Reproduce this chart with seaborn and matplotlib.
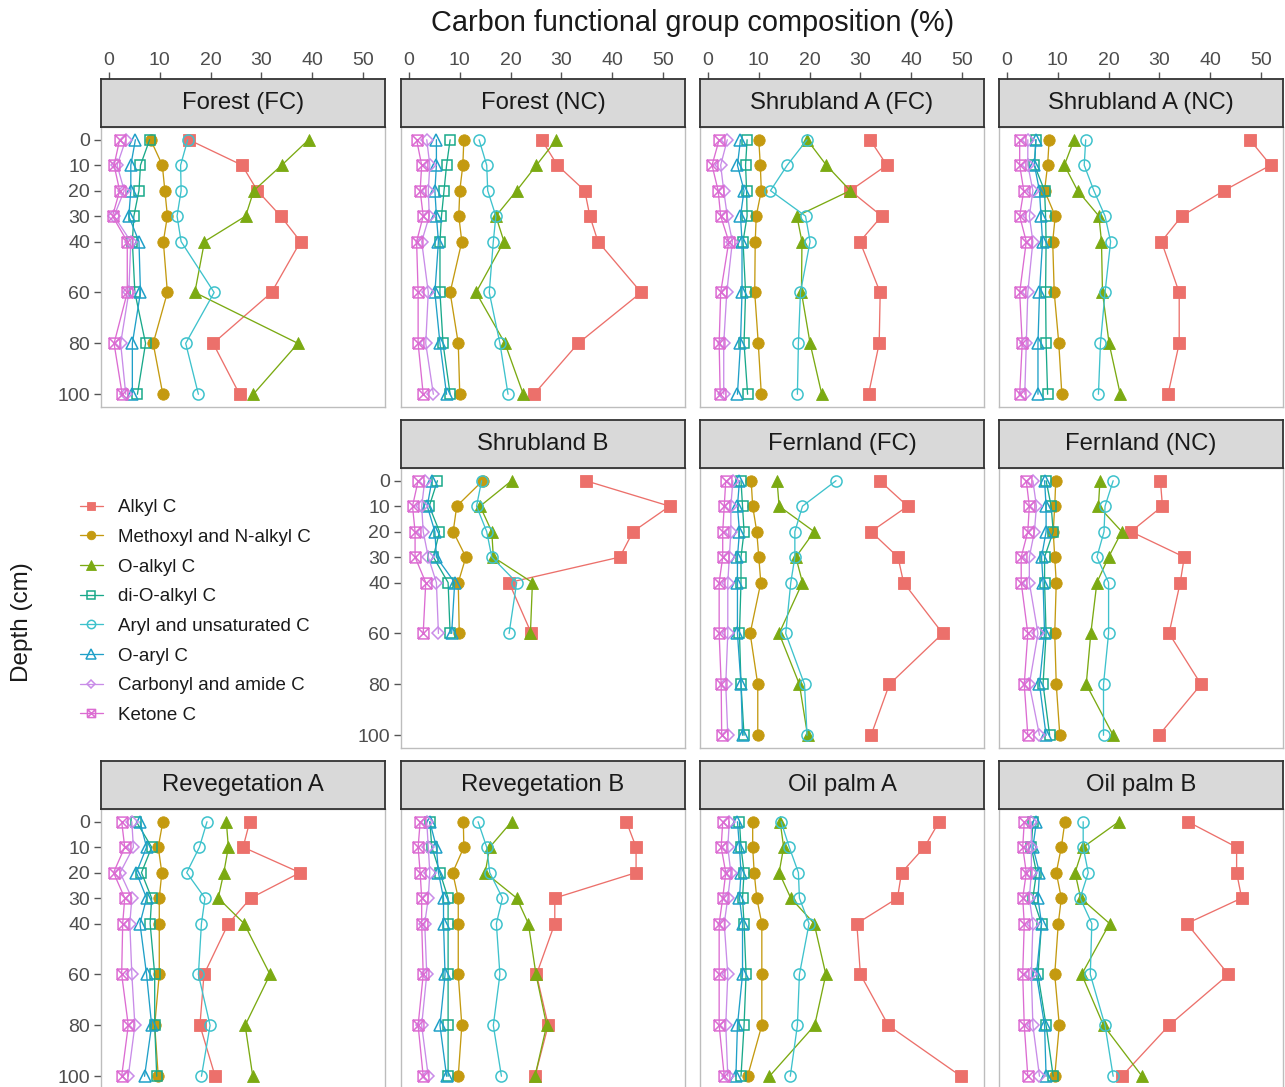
import numpy as np
import pandas as pd
import matplotlib
matplotlib.use("Agg")
import matplotlib.pyplot as plt
from matplotlib.path import Path
import seaborn as sns

# ---------------------------------------------------------------- data
DEPTHS = [0, 10, 20, 30, 40, 60, 80, 100]
DEPTH_TICKS = [0, 10, 20, 30, 40, 60, 80, 100]
PCT_TICKS = [0, 10, 20, 30, 40, 50]

GROUPS = ["Alkyl C", "Methoxyl and N-alkyl C", "O-alkyl C", "di-O-alkyl C",
          "Aryl and unsaturated C", "O-aryl C", "Carbonyl and amide C", "Ketone C"]

SITES = ["Forest (FC)", "Forest (NC)", "Shrubland A (FC)", "Shrubland A (NC)",
         "Shrubland B", "Fernland (FC)", "Fernland (NC)",
         "Revegetation A", "Revegetation B", "Oil palm A", "Oil palm B"]

# composition (%) per depth, one list per functional group, in GROUPS order
forest_fc = [
    [15.7, 26.2, 29.2, 33.8, 37.7, 32.0, 20.5, 25.7],
    [8.2, 10.5, 11.0, 11.5, 10.7, 11.5, 8.7, 10.6],
    [39.3, 34.0, 28.5, 26.9, 18.8, 16.9, 37.2, 28.4],
    [8.0, 6.2, 5.9, 4.9, 4.6, 5.1, 7.2, 5.6],
    [15.5, 14.1, 14.2, 13.4, 14.2, 20.7, 15.1, 17.6],
    [5.2, 4.3, 4.3, 3.9, 5.9, 6.2, 4.6, 4.6],
    [3.3, 1.6, 3.0, 1.0, 4.3, 3.9, 2.3, 3.3],
    [2.1, 1.0, 2.1, 0.7, 3.6, 3.6, 1.0, 2.6],
]
forest_nc = [
    [26.1, 29.2, 34.6, 35.6, 37.2, 45.7, 33.3, 24.6],
    [10.8, 10.6, 10.0, 9.8, 10.4, 8.1, 9.7, 10.0],
    [29.0, 25.1, 21.2, 17.1, 18.7, 13.2, 18.9, 22.5],
    [8.1, 7.4, 6.9, 6.4, 6.1, 6.1, 6.7, 8.1],
    [13.8, 15.3, 15.5, 17.1, 16.6, 15.8, 17.9, 19.5],
    [5.4, 5.4, 5.1, 5.4, 5.8, 5.1, 6.1, 7.4],
    [3.5, 4.1, 3.8, 4.0, 2.5, 3.8, 3.3, 4.8],
    [1.5, 2.5, 2.2, 2.8, 1.5, 1.8, 1.8, 2.8],
]
shrub_a_fc = [
    [31.9, 35.2, 28.0, 34.2, 29.9, 33.9, 33.7, 31.6],
    [10.0, 10.3, 10.5, 9.5, 9.3, 9.2, 9.9, 10.5],
    [19.5, 23.3, 28.0, 17.5, 18.5, 18.4, 20.1, 22.4],
    [7.7, 7.4, 7.6, 7.7, 6.9, 7.4, 7.1, 7.8],
    [19.5, 15.6, 12.3, 19.2, 20.1, 18.2, 17.8, 17.6],
    [6.4, 5.8, 7.1, 6.4, 6.7, 6.7, 6.4, 5.8],
    [3.8, 2.5, 3.1, 3.8, 4.8, 3.7, 3.1, 3.1],
    [2.2, 0.8, 2.0, 2.5, 4.1, 2.5, 2.2, 2.4],
]
shrub_a_nc = [
    [47.8, 51.9, 42.7, 34.4, 30.4, 33.9, 33.9, 31.7],
    [8.3, 8.0, 7.4, 9.5, 9.0, 9.3, 10.2, 10.8],
    [13.2, 11.3, 13.9, 18.1, 18.6, 18.8, 20.1, 22.3],
    [5.7, 5.4, 7.4, 7.6, 7.7, 7.6, 7.7, 8.0],
    [15.5, 15.2, 17.1, 19.3, 20.4, 19.3, 18.4, 18.0],
    [5.7, 5.4, 6.4, 6.7, 7.0, 6.4, 6.1, 6.1],
    [4.1, 4.1, 5.1, 4.4, 5.1, 4.1, 3.8, 3.5],
    [2.5, 2.5, 3.3, 2.5, 3.8, 2.5, 3.0, 2.5],
]
shrub_b = [
    [34.8, 51.3, 44.1, 41.5, 19.7, 24.1],
    [14.5, 9.4, 8.7, 11.2, 9.7, 9.9],
    [20.2, 14.0, 16.3, 16.6, 24.3, 23.9],
    [5.6, 4.0, 6.0, 4.8, 7.7, 8.1],
    [14.3, 13.3, 15.3, 16.3, 21.2, 19.7],
    [4.5, 3.6, 5.1, 5.4, 9.0, 8.4],
    [3.1, 2.5, 2.8, 3.8, 5.4, 5.8],
    [1.8, 0.7, 1.2, 1.2, 3.3, 2.8],
]
fern_fc = [
    [33.8, 39.3, 32.1, 37.4, 38.5, 46.2, 35.7, 32.1],
    [8.5, 8.8, 9.6, 10.0, 10.4, 8.3, 9.8, 9.8],
    [13.6, 14.0, 20.9, 17.3, 18.6, 14.0, 18.0, 19.6],
    [6.5, 6.8, 7.1, 6.5, 6.5, 6.2, 6.5, 7.1],
    [25.2, 18.6, 17.1, 17.1, 16.3, 15.3, 19.0, 19.5],
    [6.2, 5.8, 6.2, 5.8, 5.8, 5.8, 6.5, 6.8],
    [4.9, 4.5, 4.5, 4.2, 3.9, 3.9, 3.5, 3.9],
    [3.5, 3.2, 2.9, 2.9, 2.2, 2.2, 2.6, 2.7],
]
fern_nc = [
    [30.2, 30.6, 24.4, 34.9, 34.1, 31.9, 38.2, 29.9],
    [9.6, 9.4, 9.1, 9.4, 9.7, 9.4, 9.7, 10.4],
    [18.3, 18.0, 22.6, 20.0, 17.7, 16.5, 15.6, 20.9],
    [7.7, 8.7, 9.1, 7.4, 7.4, 7.7, 7.1, 8.4],
    [20.9, 19.3, 19.1, 17.7, 20.0, 20.0, 19.0, 19.0],
    [7.4, 7.7, 7.7, 6.8, 7.1, 7.4, 6.4, 7.7],
    [5.1, 5.8, 5.4, 4.4, 4.4, 6.1, 4.4, 6.4],
    [3.8, 4.4, 4.1, 2.8, 2.8, 4.1, 3.4, 4.1],
]
reveg_a = [
    [27.7, 26.4, 37.6, 27.9, 23.5, 18.7, 17.9, 20.9],
    [10.6, 9.7, 10.4, 9.9, 9.9, 9.9, 9.0, 9.7],
    [23.1, 23.5, 22.6, 21.5, 26.6, 31.7, 26.8, 28.3],
    [5.4, 8.4, 6.4, 8.4, 8.1, 9.0, 9.0, 9.4],
    [19.3, 17.8, 15.3, 18.9, 18.2, 17.6, 19.9, 18.2],
    [6.1, 7.4, 5.4, 7.4, 6.1, 7.4, 8.4, 7.0],
    [4.5, 4.8, 2.2, 4.5, 4.1, 4.5, 5.1, 3.8],
    [2.5, 3.1, 0.9, 3.1, 2.7, 2.5, 3.8, 2.5],
]
reveg_b = [
    [42.8, 44.7, 44.7, 28.7, 28.7, 25.1, 27.4, 24.8],
    [10.7, 10.8, 8.6, 9.7, 9.7, 9.7, 10.4, 9.7],
    [20.2, 15.9, 15.0, 21.2, 23.5, 25.0, 27.1, 24.8],
    [4.1, 4.5, 6.1, 7.7, 7.7, 7.7, 7.7, 7.7],
    [13.6, 15.3, 15.9, 18.4, 17.2, 17.9, 16.6, 18.2],
    [4.1, 5.4, 5.8, 6.8, 6.8, 7.1, 6.1, 7.4],
    [3.5, 3.8, 4.1, 3.8, 3.1, 3.5, 2.5, 3.8],
    [2.2, 1.8, 2.2, 2.5, 2.5, 2.8, 1.8, 2.8],
]
palm_a = [
    [45.5, 42.6, 38.1, 37.3, 29.3, 30.0, 35.5, 49.8],
    [8.8, 8.8, 9.1, 9.6, 10.6, 10.6, 10.6, 7.8],
    [14.2, 14.9, 14.0, 16.3, 20.9, 23.2, 21.0, 12.1],
    [6.2, 6.5, 7.1, 6.8, 7.1, 7.5, 7.1, 6.5],
    [14.4, 16.0, 17.8, 18.0, 19.9, 18.0, 17.6, 16.2],
    [5.8, 6.2, 6.5, 6.2, 6.8, 6.8, 5.8, 5.5],
    [4.2, 3.9, 4.5, 3.9, 3.2, 3.9, 3.5, 3.9],
    [2.9, 2.6, 3.5, 2.9, 2.2, 2.2, 2.2, 3.2],
]
palm_b = [
    [35.6, 45.2, 45.2, 46.2, 35.4, 43.6, 31.9, 22.6],
    [11.4, 10.7, 9.7, 10.7, 10.1, 9.4, 10.3, 9.4],
    [22.0, 15.0, 13.4, 14.5, 20.2, 14.7, 19.0, 26.6],
    [5.1, 4.8, 5.8, 5.1, 6.8, 6.1, 7.7, 9.1],
    [15.0, 15.0, 16.0, 14.4, 16.7, 16.4, 19.3, 20.9],
    [5.8, 5.1, 6.4, 6.1, 6.8, 5.8, 7.4, 7.7],
    [4.8, 4.8, 4.8, 4.4, 5.1, 4.8, 5.1, 6.4],
    [3.4, 3.1, 3.8, 3.1, 3.4, 3.1, 3.4, 4.1],
]

SITE_VALUES = [forest_fc, forest_nc, shrub_a_fc, shrub_a_nc, shrub_b,
               fern_fc, fern_nc, reveg_a, reveg_b, palm_a, palm_b]

rows = []
for site, table in zip(SITES, SITE_VALUES):
    for grp, vals in zip(GROUPS, table):
        for d, v in zip(DEPTHS, vals):
            rows.append((site, grp, d, v))
df = pd.DataFrame(rows, columns=["site", "group", "depth", "pct"])

# ---------------------------------------------------------------- style
sns.set_style("white")
plt.rcParams["font.family"] = ["Liberation Sans", "DejaVu Sans"]

COLORS = ["#EC706B", "#C49A10", "#7BAA12", "#19A98A",
          "#3EC2CC", "#1FA0C8", "#C98CE8", "#DC6CD2"]


def _marker(segments):
    verts, codes = [], []
    for seg in segments:
        verts.extend(seg)
        codes.extend([Path.MOVETO] + [Path.LINETO] * (len(seg) - 1))
    return Path(verts, codes)


SQ = [(-1, -1), (1, -1), (1, 1), (-1, 1), (-1, -1)]
SQUARE_CROSS = _marker([SQ, [(-1, -1), (1, 1)], [(-1, 1), (1, -1)]])

# marker, filled, size
MARKERS = [("s", True, 8.4), ("o", True, 8.2), ("^", True, 9.2), ("s", False, 7.8),
           ("o", False, 8.0), ("^", False, 8.8), ("D", False, 6.0), (SQUARE_CROSS, False, 7.8)]

W, H = 1285, 1087
fig = plt.figure(figsize=(W / 100, H / 100), dpi=100)

COL_LEFT = [101, 401, 700, 999]
PANEL_W = 284
ROW_TOP = [127, 468, 809]
PANEL_H = 280
STRIP_H = 48

# grid slot (row, col) for each site; slot (1, 0) holds the legend
SLOTS = [(0, 0), (0, 1), (0, 2), (0, 3), (1, 1), (1, 2), (1, 3),
         (2, 0), (2, 1), (2, 2), (2, 3)]

XLIM = (-1.57, 54.33)
YLIM = (105, -5)
TICK_COLOR = "#4D4D4D"


def rect(left, top, w, h):
    return [left / W, 1 - (top + h) / H, w / W, h / H]


first_ax = None
for site, (r, c) in zip(SITES, SLOTS):
    ax = fig.add_axes(rect(COL_LEFT[c], ROW_TOP[r], PANEL_W, PANEL_H))
    sub = df[df["site"] == site]
    for i, grp in enumerate(GROUPS):
        g = sub[sub["group"] == grp]
        m, filled, ms = MARKERS[i]
        sns.lineplot(data=g, x="pct", y="depth", orient="y", sort=True,
                     estimator=None, color=COLORS[i], linewidth=0.95,
                     marker=m, markersize=ms,
                     markerfacecolor=COLORS[i] if filled else "none",
                     markeredgecolor=COLORS[i],
                     markeredgewidth=0.6 if filled else 1.1,
                     zorder=2 + i, ax=ax, label=grp, legend=False)
    if first_ax is None:
        first_ax = ax
    ax.set_xlim(*XLIM)
    ax.set_ylim(*YLIM)
    ax.set_xlabel("")
    ax.set_ylabel("")
    ax.set_xticks([])
    if c == 0 or site == "Shrubland B":
        ax.set_yticks(DEPTH_TICKS)
        ax.set_yticklabels([str(t) for t in DEPTH_TICKS])
        ax.tick_params(axis="y", which="both", left=True, length=5, width=1,
                       color="#555555", labelsize=14, labelcolor=TICK_COLOR, pad=3)
    else:
        ax.set_yticks([])
    for sp in ax.spines.values():
        sp.set_color("#BDBDBD")
        sp.set_linewidth(1.0)

    # facet strip
    sax = fig.add_axes(rect(COL_LEFT[c], ROW_TOP[r] - STRIP_H, PANEL_W, STRIP_H))
    sax.set_facecolor("#D9D9D9")
    sax.set_xlim(*XLIM)
    sax.set_ylim(0, 1)
    sax.set_yticks([])
    for sp in sax.spines.values():
        sp.set_color("#333333")
        sp.set_linewidth(1.3)
    sax.text(0.5, 0.5, site, transform=sax.transAxes, ha="center", va="center",
             fontsize=17.2, color="#1A1A1A")
    if r == 0:
        sax.xaxis.tick_top()
        sax.set_xticks(PCT_TICKS)
        sax.set_xticklabels([str(t) for t in PCT_TICKS])
        sax.tick_params(axis="x", top=True, bottom=False, length=5, width=1,
                        color="#555555", labelsize=14, labelcolor=TICK_COLOR, pad=2)
    else:
        sax.set_xticks([])

# shared axis titles
fig.text(693 / W, 1 - 23 / H, "Carbon functional group composition (%)",
         ha="center", va="center", fontsize=20.8, color="#1A1A1A")
fig.text(22 / W, 1 - 622 / H, "Depth (cm)", rotation=90,
         ha="center", va="center", fontsize=17.5, color="#1A1A1A")

# legend in the empty slot
handles = first_ax.get_lines()[:len(GROUPS)]
fig.legend(handles, GROUPS, loc="upper left",
           bbox_to_anchor=(80 / W, 1 - 499 / H), frameon=False,
           fontsize=13.5, handlelength=1.2, handletextpad=0.8,
           labelspacing=0.67, borderpad=0, borderaxespad=0, markerscale=0.75,
           labelcolor="#1A1A1A")

fig.savefig("out.png", dpi=100, facecolor="white")
